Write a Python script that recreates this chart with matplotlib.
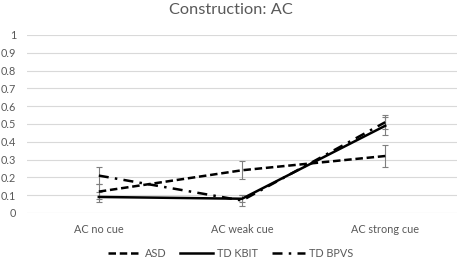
import matplotlib
matplotlib.use("Agg")
import matplotlib.pyplot as plt
import numpy as np

plt.rcParams['font.family'] = ['Lato', 'DejaVu Sans']

categories = ["AC no cue", "AC weak cue", "AC strong cue"]
asd = [0.12, 0.24, 0.32]
asd_err = [0.04, 0.05, 0.06]
kbit = [0.09, 0.08, 0.49]
kbit_err = [0.03, 0.02, 0.05]
bpvs = [0.21, 0.07, 0.51]
bpvs_err = [0.05, 0.03, 0.04]
yticks = [0, 0.1, 0.2, 0.3, 0.4, 0.5, 0.6, 0.7, 0.8, 0.9, 1]
ytick_labels = ["0", "0.1", "0.2", "0.3", "0.4", "0.5", "0.6", "0.7", "0.8", "0.9", "1"]

grey = "#595959"
fig = plt.figure(figsize=(4.61, 2.61), dpi=100)
ax = fig.add_axes([0.059, 0.184, 0.932, 0.682])

x = np.arange(len(categories))
series = [
    ("ASD", asd, asd_err, (0, (3, 1.5))),
    ("TD KBIT", kbit, kbit_err, "-"),
    ("TD BPVS", bpvs, bpvs_err, (0, (4, 2.5, 1, 2.5))),
]
for name, vals, err, ls in series:
    ax.errorbar(x, vals, yerr=err, fmt="none", ecolor="#7f7f7f",
                elinewidth=0.8, capsize=2.5, capthick=0.8, zorder=2)
    ax.plot(x, vals, color="black", linestyle=ls, linewidth=1.8,
            label=name, zorder=3)

ax.set_xlim(-0.5, 2.5)
ax.set_ylim(0, 1)
ax.set_yticks(yticks)
ax.set_yticklabels(ytick_labels)
ax.set_xticks(x)
ax.set_xticklabels(categories)
ax.tick_params(axis="both", length=0, labelsize=7.8, labelcolor=grey)
ax.tick_params(axis="x", pad=8)
ax.tick_params(axis="y", pad=8)
ax.grid(axis="y", color="#d9d9d9", linewidth=0.8)
ax.set_axisbelow(True)
for s in ax.spines.values():
    s.set_visible(False)

fig.suptitle("Construction: AC", y=0.99, fontsize=11.8, color=grey)
fig.legend(loc="lower center", bbox_to_anchor=(0.5, -0.03), ncol=3,
           frameon=False, fontsize=7.8, labelcolor=grey, handlelength=3.0,
           columnspacing=1.3, handletextpad=0.4)

fig.savefig("out.png", dpi=100)
